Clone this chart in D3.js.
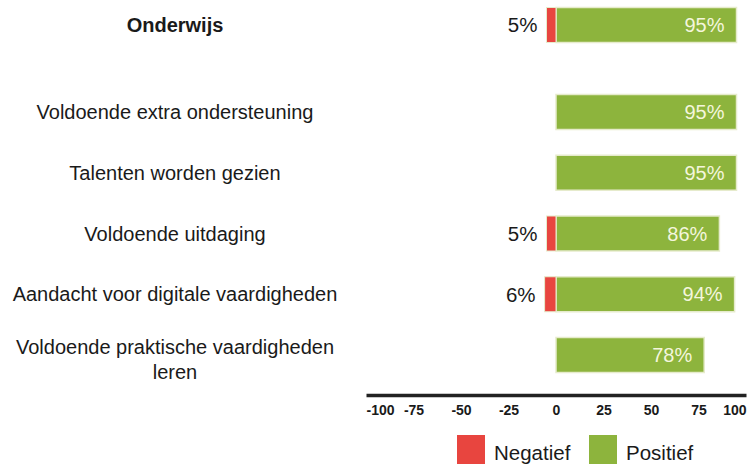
<!DOCTYPE html>
<html>
<head>
<meta charset="utf-8">
<script src="https://cdn.jsdelivr.net/npm/d3@7"></script>
<style>
  body { margin: 0; background: #fff; }
  text { font-family: "Liberation Sans", Arial, sans-serif; }
</style>
</head>
<body>
<div class="canvas"></div>
<script>
// data
const header = "Onderwijs";
const headerNeg = 5;
const headerPos = 95;
const categories = [
  "Voldoende extra ondersteuning",
  "Talenten worden gezien",
  "Voldoende uitdaging",
  "Aandacht voor digitale vaardigheden",
  "Voldoende praktische vaardigheden leren"
];
const negValues = [0, 0, 5, 6, 0];
const posValues = [95, 95, 86, 94, 78];
const ticks = [-100, -75, -50, -25, 0, 25, 50, 75, 100];
const legendItems = ["Negatief", "Positief"];

const width = 753;
const height = 464;
const barH = 35;
const labelX = 175;
const headerY = 25;

const red = "#e8453f";
const green = "#8db43d";
const color = d3.scaleOrdinal().domain(legendItems).range([red, green]);

const x = d3.scaleLinear().domain([-100, 100]).range([366, 746]);
const y = d3.scalePoint().domain(categories).range([112, 355]);

const svg = d3.select(".canvas").append("svg")
  .attr("width", width)
  .attr("height", height);

// rows: header first, then the categories
const rows = [{ name: header, neg: headerNeg, pos: headerPos, cy: headerY, bold: true }]
  .concat(categories.map((c, i) => ({ name: c, neg: negValues[i], pos: posValues[i], cy: y(c), bold: false })));

const row = svg.selectAll("g.row")
  .data(rows)
  .join("g")
  .attr("class", "row");

// positive bars
row.append("rect")
  .attr("x", x(0))
  .attr("y", d => d.cy - barH / 2)
  .attr("width", d => x(d.pos) - x(0))
  .attr("height", barH)
  .attr("fill", color("Positief"))
  .attr("stroke", "#e6ebcc")
  .attr("stroke-width", 1.5);

// negative bars
row.filter(d => d.neg > 0).append("rect")
  .attr("x", d => x(-d.neg))
  .attr("y", d => d.cy - barH / 2)
  .attr("width", d => x(0) - x(-d.neg))
  .attr("height", barH)
  .attr("fill", color("Negatief"))
  .attr("stroke", "#e6ebcc")
  .attr("stroke-width", 1);

// value labels inside
row.append("text")
  .attr("x", d => x(d.pos) - 12)
  .attr("y", d => d.cy)
  .attr("dy", "0.36em")
  .attr("text-anchor", "end")
  .attr("font-size", 20)
  .attr("fill", "#f4f6dc")
  .text(d => d.pos + "%");

// negative value labels
row.filter(d => d.neg > 0).append("text")
  .attr("x", d => x(-d.neg) - 9)
  .attr("y", d => d.cy)
  .attr("dy", "0.36em")
  .attr("text-anchor", "end")
  .attr("font-size", 20.5)
  .attr("fill", "#1a1a1a")
  .text(d => d.neg + "%");

// category labels
row.append("text")
  .attr("x", labelX)
  .attr("text-anchor", "middle")
  .attr("font-size", 20)
  .attr("font-weight", d => d.bold ? "bold" : "normal")
  .attr("fill", "#1a1a1a")
  .each(function(d) {
    const t = d3.select(this);
    const lines = d.name === "Voldoende praktische vaardigheden leren"
      ? ["Voldoende praktische vaardigheden", "leren"] : [d.name];
    const off = lines.length > 1 ? -8 : 0;
    lines.forEach((l, i) => {
      t.append("tspan")
        .attr("x", labelX)
        .attr("y", d.cy + off + i * 25)
        .attr("dy", "0.36em")
        .text(l);
    });
  });

// axis
const gx = svg.append("g")
  .attr("transform", "translate(0,395)")
  .call(d3.axisBottom(x).tickValues(ticks).tickSize(0).tickPadding(10).tickFormat(d => String(d)));
gx.select(".domain").attr("stroke", "#222").attr("stroke-width", 3.5);
gx.selectAll(".tick text")
  .attr("font-size", 14)
  .attr("font-weight", "bold")
  .attr("fill", "#1a1a1a")
  .attr("font-family", "Liberation Sans, Arial, sans-serif")
  .attr("text-anchor", d => d === -100 ? "start" : d === 100 ? "end" : "middle");

// legend
const legendX = [457, 589];
const lg = svg.selectAll("g.legend")
  .data(legendItems)
  .join("g")
  .attr("class", "legend")
  .attr("transform", (d, i) => `translate(${legendX[i]},435)`);
lg.append("rect")
  .attr("width", 28)
  .attr("height", 34)
  .attr("fill", d => color(d));
lg.append("text")
  .attr("x", 37)
  .attr("y", 18)
  .attr("dy", "0.36em")
  .attr("font-size", 20.5)
  .attr("fill", "#1a1a1a")
  .text(d => d);
</script>
</body>
</html>
